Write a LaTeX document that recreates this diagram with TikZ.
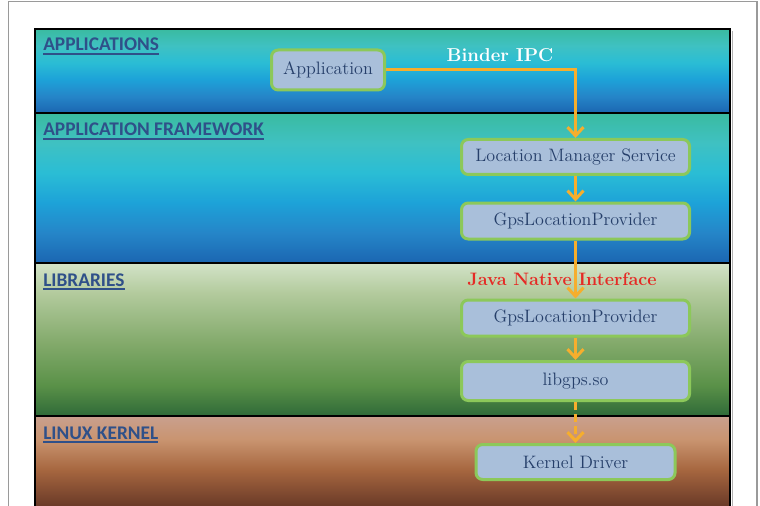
\documentclass[tikz,border=0pt]{standalone}
\usepackage{fontspec}
\newfontfamily\lblfont{Carlito}
\usetikzlibrary{arrows.meta}
\definecolor{aA}{HTML}{3ABBA0}\definecolor{aB}{HTML}{3FC1C2}\definecolor{aC}{HTML}{2ABDD5}
\definecolor{aD}{HTML}{1DA2D8}\definecolor{aE}{HTML}{2585C8}\definecolor{aF}{HTML}{1B66B1}
\definecolor{lA}{HTML}{D3E3C8}\definecolor{lB}{HTML}{B2CA9C}\definecolor{lC}{HTML}{86AC6E}
\definecolor{lD}{HTML}{5A9148}\definecolor{lE}{HTML}{2F6A38}
\definecolor{kA}{HTML}{C9A08E}\definecolor{kB}{HTML}{C99470}\definecolor{kC}{HTML}{A6663F}
\definecolor{kD}{HTML}{6A3A28}
\definecolor{nodefill}{HTML}{A9BFDA}\definecolor{nodeedge}{HTML}{8CC85A}
\definecolor{nodetext}{HTML}{263F6A}\definecolor{lbltext}{HTML}{2F5089}
\definecolor{arrowc}{HTML}{F6AE2D}\definecolor{jnired}{HTML}{E52A25}
\definecolor{framegrey}{HTML}{9A9A9A}
\pgfdeclareverticalshading{appshade}{100bp}{color(0bp)=(aF); color(25bp)=(aF); color(35bp)=(aE); color(45bp)=(aD); color(55bp)=(aC); color(65bp)=(aB); color(75bp)=(aA); color(100bp)=(aA)}
\pgfdeclareverticalshading{libshade}{100bp}{color(0bp)=(lE); color(25bp)=(lE); color(35bp)=(lD); color(50bp)=(lC); color(65bp)=(lB); color(75bp)=(lA); color(100bp)=(lA)}
\pgfdeclareverticalshading{kernshade}{100bp}{color(0bp)=(kD); color(25bp)=(kD); color(45bp)=(kC); color(62bp)=(kB); color(75bp)=(kA); color(100bp)=(kA)}
\tikzset{
  compbox/.style={draw=nodeedge, line width=2.25pt, fill=nodefill, rounded corners=5pt,
    text=nodetext, font=\fontsize{13.5}{16}\selectfont, inner sep=0pt},
  layerlabel/.style={anchor=base west, inner sep=0pt, text=lbltext,
    font=\lblfont\bfseries\fontsize{14.5}{16}\selectfont},
  flow/.style={draw=arrowc, line width=2.25pt, -{Straight Barb[length=6.5pt,width=12pt,line width=2.25pt]}},
  bandline/.style={draw=black, line width=1.5pt}
}
\begin{document}
\begin{tikzpicture}[x=0.75pt,y=-0.75pt]
\useasboundingbox (0,0) rectangle (760,506);
\fill[white] (0,0) rectangle (760,506);
% outer grey frame
\draw[framegrey, line width=1.2pt] (8.5,506) -- (8.5,1.5) -- (757,1.5) -- (757,506);
% bands
\shade[shading=appshade] (35,29) rectangle (730,113);
\shade[shading=appshade] (35,113) rectangle (730,263);
\shade[shading=libshade] (35,263) rectangle (730,416);
\shade[shading=kernshade] (35,416) rectangle (730,506);
\draw[bandline] (35,113) -- (730,113);
\draw[bandline] (35,263) -- (730,263);
\draw[bandline] (35,416) -- (730,416);
\draw[black, line width=2.2pt] (35,510) -- (35,29) -- (730,29) -- (730,510);
\draw[gray!60, line width=1pt] (732.5,31) -- (732.5,510);
% layer labels
\node[layerlabel] (lapp) at (43,51) {APPLICATIONS};
\node[layerlabel] (lfw) at (43,136) {APPLICATION FRAMEWORK};
\node[layerlabel] (llib) at (43,286) {LIBRARIES};
\node[layerlabel] (lker) at (43,439) {LINUX KERNEL};
\foreach \n in {lapp,lfw,llib,lker}
  \draw[lbltext, line width=1pt] ([yshift=-2.2pt]\n.base west) -- ([yshift=-2.2pt]\n.base east);
% components
\node[compbox, minimum width=84.75pt, minimum height=30pt] (app) at (328,70) {Application};
\node[compbox, minimum width=171pt, minimum height=26.25pt] (lms) at (575.5,157) {Location Manager Service};
\node[compbox, minimum width=171pt, minimum height=27pt] (gps1) at (575.5,221) {GpsLocationProvider};
\node[compbox, minimum width=171pt, minimum height=27pt] (gps2) at (575.5,318) {GpsLocationProvider};
\node[compbox, minimum width=171pt, minimum height=29.25pt] (lib) at (575.5,381) {libgps.so};
\node[compbox, minimum width=149.25pt, minimum height=26.25pt] (kd) at (575.5,462) {Kernel Driver};
% texts on connectors
\node[text=white, font=\bfseries\fontsize{14}{16}\selectfont, inner sep=0pt] (binder) at (500,55) {Binder IPC};
\node[text=jnired, font=\bfseries\fontsize{13.5}{16}\selectfont, inner sep=0pt] (jni) at (562,279) {Java Native Interface};
% connectors
\draw[flow] (app.east) -| (lms.north);
\draw[flow] (lms.south) -- (gps1.north);
\draw[flow] (gps1.south) -- (gps2.north);
\draw[flow] (gps2.south) -- (lib.north);
\draw[flow, dash pattern=on 6pt off 3pt] (lib.south) -- (kd.north);
\end{tikzpicture}
\end{document}
